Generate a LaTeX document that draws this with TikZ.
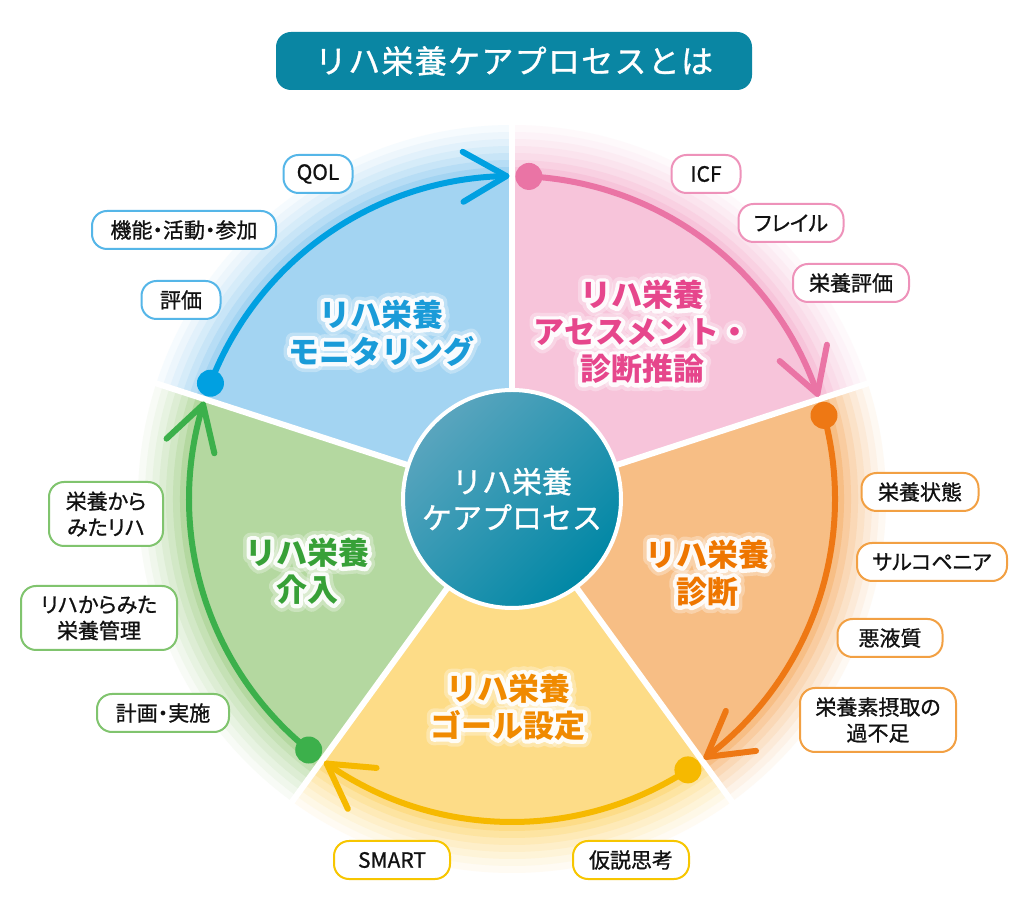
\documentclass[tikz,border=0pt]{standalone}
\usepackage{fontspec}
\newfontfamily\jp{Noto Sans CJK JP}
\newfontfamily\jpm{Noto Sans CJK JP}[FakeBold=1]
\newfontfamily\jpt{Noto Sans CJK JP}[FakeBold=1,RawFeature=+palt]
\newfontfamily\jptitle{Noto Sans CJK JP}[FakeBold=1,LetterSpace=4]
\usetikzlibrary{calc}
\definecolor{bluesl}{HTML}{A3D4F2}
\definecolor{pinksl}{HTML}{F7C4DA}
\definecolor{orangesl}{HTML}{F7BE85}
\definecolor{yellowsl}{HTML}{FDDC87}
\definecolor{greensl}{HTML}{B4D8A0}
\definecolor{bluearc}{HTML}{00A0E1}
\definecolor{pinkarc}{HTML}{EA74A5}
\definecolor{orangearc}{HTML}{EE7814}
\definecolor{yellowarc}{HTML}{F6B900}
\definecolor{greenarc}{HTML}{3CB04B}
\definecolor{bluetx}{HTML}{1A9BD8}
\definecolor{pinktx}{HTML}{E6468C}
\definecolor{orangetx}{HTML}{EE7600}
\definecolor{yellowtx}{HTML}{F08A00}
\definecolor{greentx}{HTML}{37A037}
\definecolor{bluetag}{HTML}{55B6E8}
\definecolor{pinktag}{HTML}{EE92BA}
\definecolor{orangetag}{HTML}{F2A043}
\definecolor{yellowtag}{HTML}{F7C600}
\definecolor{greentag}{HTML}{80C46E}
\definecolor{titlebg}{HTML}{0A86A3}
\definecolor{hubtop}{HTML}{5AA5BE}
\definecolor{hubbot}{HTML}{0087A5}
\definecolor{tagtext}{HTML}{111111}

\newcommand\slicefill[3]{%
  \foreach \rr/\pp in {374/10,367/20,360/32,353/45,346/60,339/78}{
    \fill[#1!\pp!white] (C) -- ++(#2:\rr) arc[start angle=#2,end angle=#3,radius=\rr] -- cycle;}
  \fill[#1] (C) -- ++(#2:332) arc[start angle=#2,end angle=#3,radius=332] -- cycle;
}
\newcommand\cyclearc[4]{%
  \coordinate (#1s) at ($(C)+(#3:323)$);
  \coordinate (#1e) at ($(C)+(#4:323)$);
  \draw[arcline, #2] (#1s) arc[start angle=#3, end angle=#4, radius=323];
  \draw[arcline, #2] ($(#1e)+(#4+60:50)$) -- (#1e) -- ($(#1e)+(#4+120:50)$);
  \node[dotn, fill=#2] (#1dot) at (#1s) {};
}
\newcommand\glowlabel[4]{%
  \node[slabel, text=white, opacity=0.3] at #2 {\special{pdf:literal direct 2 Tr 15 w 1 j}#4\special{pdf:literal direct 0 Tr}};
  \node[slabel, text=white, opacity=0.9] at #2 {\special{pdf:literal direct 2 Tr 8 w 1 j}#4\special{pdf:literal direct 0 Tr}};
  \node[slabel, text=#3] (#1) at #2 {#4};
}

\begin{document}
\begin{tikzpicture}[x=1pt,y=1pt,
  arcline/.style={line width=6, line cap=round, line join=round},
  dotn/.style={circle, minimum size=27, inner sep=0, draw=none},
  slabel/.style={font=\jp\bfseries\fontsize{31}{37}\selectfont, align=center, inner sep=0},
  tagbox/.style={draw=#1, line width=2, rounded corners=15, fill=white,
    font=\jpt\fontsize{21}{26}\selectfont, align=center, minimum height=38,
    inner sep=0, text=tagtext},
  twoline/.style={minimum height=64}
]
\useasboundingbox (0,0) rectangle (1024,912);
\fill[white] (0,0) rectangle (1024,912);
\coordinate (C) at (512,413);

% slices
\slicefill{pinksl}{18}{90}
\slicefill{bluesl}{90}{162}
\slicefill{greensl}{162}{234}
\slicefill{yellowsl}{234}{306}
\slicefill{orangesl}{306}{378}

% white gaps
\foreach \g in {18,90,162,234,306}
  \draw[white, line width=6] (C) -- ++(\g:380);

% cycle arcs
\cyclearc{pk}{pinkarc}{87}{19}
\cyclearc{or}{orangearc}{15}{-53}
\cyclearc{ye}{yellowarc}{-57}{-125}
\cyclearc{gr}{greenarc}{231}{163}
\cyclearc{bl}{bluearc}{159}{91}

% hub
\node[circle, minimum size=218, inner sep=0, draw=white, line width=4,
  top color=hubtop, bottom color=hubbot, shading angle=45, text=white,
  font=\jpm\fontsize{30}{36}\selectfont, align=center] (hub) at (C) {リハ栄養\\ケアプロセス};

% slice labels
\glowlabel{lblue}{(381,579)}{bluetx}{リハ栄養\\モニタリング}
\glowlabel{lpink}{(642,580)}{pinktx}{リハ栄養\\アセスメント・\\診断推論}
\glowlabel{lorange}{(707,339)}{orangetx}{リハ栄養\\診断}
\glowlabel{lyellow}{(508,205)}{yellowtx}{リハ栄養\\ゴール設定}
\glowlabel{lgreen}{(307,341)}{greentx}{リハ栄養\\介入}

% title
\node[fill=titlebg, rounded corners=15, minimum width=476, minimum height=58,
  text=white, font=\jptitle\fontsize{32}{36}\selectfont, inner sep=0] (title) at (514,851) {リハ栄養ケアプロセスとは};

% tags
\node[tagbox=bluetag, minimum width=69] (qol) at (318,738) {QOL};
\node[tagbox=bluetag, minimum width=184] (kino) at (184,682) {機能・活動・参加};
\node[tagbox=bluetag, minimum width=79] (hyoka) at (181,612) {評価};

\node[tagbox=pinktag, minimum width=69] (icf) at (706,738) {ICF};
\node[tagbox=pinktag, minimum width=105] (frail) at (791,689) {フレイル};
\node[tagbox=pinktag, minimum width=116] (eiyohyoka) at (851,629) {栄養評価};

\node[tagbox=orangetag, minimum width=117] (jotai) at (920,420) {栄養状態};
\node[tagbox=orangetag, minimum width=150] (sarco) at (932,350) {サルコペニア};
\node[tagbox=orangetag, minimum width=105] (akueki) at (890,274) {悪液質};
\node[tagbox=orangetag, twoline, minimum width=156] (kabusoku) at (878,192) {栄養素摂取の\\過不足};

\node[tagbox=yellowtag, minimum width=116] (smart) at (392,52) {SMART};
\node[tagbox=yellowtag, minimum width=116] (kasetsu) at (631,52) {仮説思考};

\node[tagbox=greentag, twoline, minimum width=114] (eiyokara) at (106,398) {栄養から\\みたリハ};
\node[tagbox=greentag, twoline, minimum width=156] (rihakara) at (99,294) {リハからみた\\栄養管理};
\node[tagbox=greentag, minimum width=132] (keikaku) at (163,199) {計画・実施};
\end{tikzpicture}
\end{document}
